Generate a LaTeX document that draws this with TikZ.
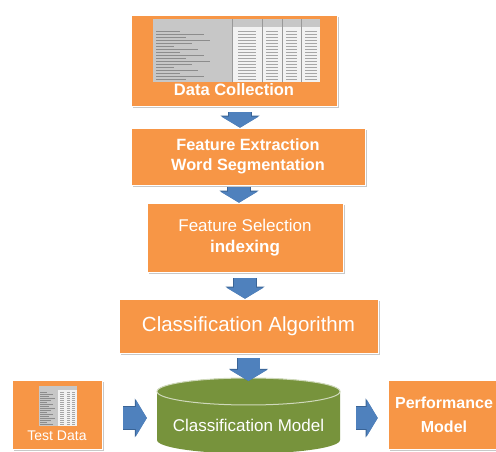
\documentclass[tikz,border=0pt]{standalone}
\usepackage{fontspec}
\setmainfont{Liberation Sans}
\usetikzlibrary{arrows.meta}
\usetikzlibrary{positioning}
\usetikzlibrary{shadows}
\definecolor{boxorange}{HTML}{F79646}
\definecolor{cylgreen}{HTML}{77933C}
\definecolor{arrblue}{HTML}{4F81BD}
\definecolor{arrdark}{HTML}{3A6496}
\newcommand{\pxfont}[2]{\fontsize{#1}{#2}\selectfont}
\tikzset{box/.style = {fill=boxorange, draw=white, line width=0.6pt, text=white,
                       align=center, inner sep=0,
                       drop shadow={shadow xshift=2pt, shadow yshift=-2pt,
                                    fill=black!30, opacity=0.7}}}
\tikzset{blk/.style = {draw=arrblue, line width=22pt,
                       -{Triangle[width=37pt, length=11pt, line width=0pt]},
                       preaction={draw=arrdark, line width=23.6pt,
                                  -{Triangle[width=39pt, length=12pt, line width=0pt]}}}}
\tikzset{lbl/.style = {text=white, inner sep=0}}

\begin{document}
\begin{tikzpicture}[x=1pt, y=1pt]
    \clip (0, 0) rectangle (496, 452);
    \fill [white] (0, 0) rectangle (496, 452);

    \node [box, minimum width=206pt, minimum height=91pt] (dc) at (234, 391.5) {};
    \fill [black!22] (153, 370) rectangle (320, 433);
    \fill [black!5] (232, 370) rectangle (320, 425);
    \foreach \cx in {232, 262, 282, 301}
        \draw [black!40, line width=0.5pt] (\cx, 370) -- (\cx, 433);
    \foreach \ty in {373, 376, ..., 421} {
        \draw [black!45, line width=0.8pt] (156, \ty) -- ++({18 + mod(\ty, 7) * 6}, 0);
        \draw [black!35, line width=0.8pt] (238, \ty) -- ++(18, 0);
        \draw [black!35, line width=0.8pt] (266, \ty) -- ++(12, 0);
        \draw [black!35, line width=0.8pt] (286, \ty) -- ++(11, 0);
        \draw [black!35, line width=0.8pt] (305, \ty) -- ++(12, 0);
    }
    \node [lbl, font=\pxfont{16.5}{20}\bfseries] (dclabel) at (234, 362) {Data Collection};

    \node [box, minimum width=234pt, minimum height=57pt, font=\pxfont{16.3}{20}\bfseries]
        (fe) at (248, 295.5) {Feature Extraction\\Word Segmentation};
    \node [box, minimum width=196pt, minimum height=69pt, font=\pxfont{17}{21}]
        (fs) at (245, 214.5) {Feature Selection\\\textbf{indexing}};
    \node [box, minimum width=259pt, minimum height=54pt, font=\pxfont{20.5}{24}]
        (ca) at (248.5, 126) {Classification Algorithm};

    \fill [cylgreen] (157, 60.5) -- (157, 12)
        arc [start angle=180, end angle=360, x radius=91.5, y radius=13.5]
        -- (340, 60.5)
        arc [start angle=0, end angle=180, x radius=91.5, y radius=13.5] -- cycle;
    \draw [fill=cylgreen, draw=white!65!cylgreen, line width=1pt]
        (248.5, 60.5) ellipse [x radius=91.5, y radius=13.5];
    \node [lbl, font=\pxfont{17}{20}, minimum width=183pt] (cm) at (248.5, 27) {Classification Model};
    \coordinate (cmtop) at (248.5, 74);

    \node [box, minimum width=90pt, minimum height=69pt] (td) at (57, 37.5) {};
    \fill [black!22] (39, 26) rectangle (77, 66);
    \fill [black!5] (58, 26) rectangle (77, 62);
    \foreach \ty in {28, 30, ..., 60} {
        \draw [black!45, line width=0.5pt] (40, \ty) -- ++({7 + mod(\ty, 5) * 2}, 0);
        \draw [black!35, line width=0.5pt] (60, \ty) -- ++(4, 0);
        \draw [black!35, line width=0.5pt] (67, \ty) -- ++(3, 0);
        \draw [black!35, line width=0.5pt] (72, \ty) -- ++(3, 0);
    }
    \node [lbl, font=\pxfont{14}{17}] (tdlabel) at (57, 16) {Test Data};

    \node [box, minimum width=112pt, minimum height=69pt, font=\pxfont{16}{24}\bfseries]
        (pm) at (444, 37.5) {Performance\\Model};

    \draw [blk, shorten <=6pt] ([xshift=6]dc.south) -- ([xshift=-8]fe.north);
    \draw [blk, shorten <=2pt] ([xshift=-9]fe.south) -- ([xshift=-6]fs.north);
    \draw [blk, shorten <=6pt] (fs.south) -- ([xshift=-3.5]ca.north);
    \draw [blk, shorten <=5pt] (ca.south) -- ([yshift=-3]cmtop);
    \draw [blk, shorten <=21pt, shorten >=10pt] ([yshift=-3.5]td.east) -- ([yshift=7]cm.west);
    \draw [blk, shorten <=16pt, shorten >=10pt] ([yshift=7]cm.east) -- ([yshift=-3.5]pm.west);
\end{tikzpicture}
\end{document}
